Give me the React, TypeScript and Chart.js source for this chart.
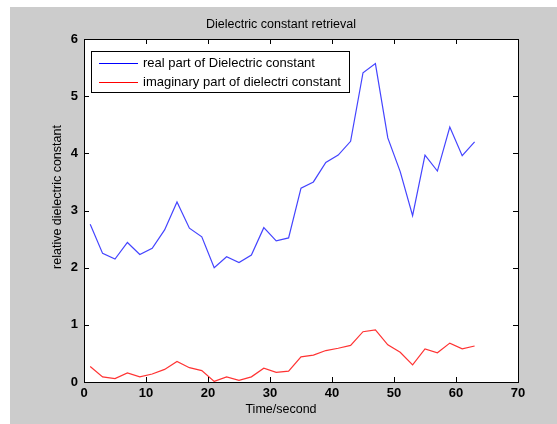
import React, { useEffect, useRef } from "react";
import { Chart, registerables } from "chart.js";

Chart.register(...registerables);

const timeSec = [1, 3, 5, 7, 9, 11, 13, 15, 17, 19, 21, 23, 25, 27, 29, 31, 33, 35, 37, 39, 41, 43, 45, 47, 49, 51, 53, 55, 57, 59, 61, 63];
const realPart = [2.76, 2.25, 2.15, 2.44, 2.23, 2.34, 2.66, 3.15, 2.69, 2.54, 2.0, 2.19, 2.09, 2.22, 2.7, 2.47, 2.52, 3.39, 3.5, 3.84, 3.97, 4.21, 5.41, 5.57, 4.27, 3.68, 2.91, 3.97, 3.69, 4.46, 3.96, 4.2];
const imagPart = [0.27, 0.09, 0.06, 0.16, 0.09, 0.14, 0.22, 0.36, 0.25, 0.2, 0.01, 0.09, 0.03, 0.09, 0.24, 0.17, 0.19, 0.44, 0.47, 0.55, 0.59, 0.64, 0.88, 0.91, 0.65, 0.52, 0.3, 0.58, 0.51, 0.68, 0.58, 0.63];
const seriesLabels = ["real part of Dielectric constant", "imaginary part of dielectri constant"];
const titleText = "Dielectric constant retrieval";
const xTitle = "Time/second";
const yTitle = "relative dielectric constant";

const FONT = "'Liberation Sans', Arial, sans-serif";

const decorPlugin = {
  id: "decor",
  beforeDraw(chart: any) {
    const { ctx, chartArea: a, width, height } = chart;
    ctx.save();
    ctx.fillStyle = "#ffffff";
    ctx.fillRect(0, 0, width, height);
    ctx.fillStyle = "#cccccc";
    ctx.fillRect(10, 7, width - 10, height - 7);
    ctx.fillStyle = "#ffffff";
    ctx.fillRect(a.left, a.top, a.right - a.left, a.bottom - a.top);
    ctx.restore();
  },
  afterDraw(chart: any) {
    const { ctx, chartArea: a, scales } = chart;
    ctx.save();
    ctx.strokeStyle = "#000000";
    ctx.lineWidth = 1;
    ctx.strokeRect(Math.round(a.left) + 0.5, Math.round(a.top) + 0.5, Math.round(a.right - a.left), Math.round(a.bottom - a.top));
    const tl = 5;
    ctx.beginPath();
    scales.x.ticks.forEach((t: any) => {
      const px = Math.round(scales.x.getPixelForValue(t.value)) + 0.5;
      ctx.moveTo(px, a.bottom);
      ctx.lineTo(px, a.bottom - tl);
      ctx.moveTo(px, a.top);
      ctx.lineTo(px, a.top + tl);
    });
    scales.y.ticks.forEach((t: any) => {
      const py = Math.round(scales.y.getPixelForValue(t.value)) + 0.5;
      ctx.moveTo(a.left, py);
      ctx.lineTo(a.left + tl, py);
      ctx.moveTo(a.right, py);
      ctx.lineTo(a.right - tl, py);
    });
    ctx.stroke();

    // legend
    ctx.font = `13px ${FONT}`;
    const bx = Math.round(a.left) + 7;
    const by = Math.round(a.top) + 12;
    const textX = bx + 52;
    const maxW = Math.max(...chart.data.datasets.map((d: any) => ctx.measureText(d.label).width));
    const bw = Math.round(textX - bx + maxW + 8);
    const bh = 41;
    ctx.fillStyle = "#ffffff";
    ctx.fillRect(bx, by, bw, bh);
    ctx.strokeStyle = "#000000";
    ctx.strokeRect(bx + 0.5, by + 0.5, bw, bh);
    chart.data.datasets.forEach((d: any, i: number) => {
      const ly = by + 12 + i * 19;
      ctx.strokeStyle = d.legendColor;
      ctx.beginPath();
      ctx.moveTo(bx + 8, ly + 0.5);
      ctx.lineTo(bx + 47, ly + 0.5);
      ctx.stroke();
      ctx.fillStyle = "#000000";
      ctx.textAlign = "left";
      ctx.textBaseline = "middle";
      ctx.fillText(d.label, textX, ly);
    });

    ctx.fillStyle = "#000000";
    ctx.textAlign = "center";
    ctx.textBaseline = "middle";
    ctx.font = `12.5px ${FONT}`;
    ctx.fillText(titleText, 281, 25);
    ctx.fillText(xTitle, 281, 410);
    ctx.save();
    ctx.translate(58, 197);
    ctx.rotate(-Math.PI / 2);
    ctx.fillText(yTitle, 0, 0);
    ctx.restore();
    ctx.restore();
  },
};

export default function App() {
  const ref = useRef<HTMLCanvasElement | null>(null);
  useEffect(() => {
    if (!ref.current) return;
    const chart = new Chart(ref.current, {
      type: "line",
      data: {
        datasets: [
          {
            label: seriesLabels[0],
            data: timeSec.map((t, i) => ({ x: t, y: realPart[i] })),
            borderColor: "#4444ff",
            legendColor: "#0000ff",
            borderWidth: 1.2,
            pointRadius: 0,
            tension: 0,
          } as any,
          {
            label: seriesLabels[1],
            data: timeSec.map((t, i) => ({ x: t, y: imagPart[i] })),
            borderColor: "#ff3333",
            legendColor: "#ff0000",
            borderWidth: 1.2,
            pointRadius: 0,
            tension: 0,
          } as any,
        ],
      },
      options: {
        animation: false,
        responsive: false,
        devicePixelRatio: 1,
        layout: { padding: { left: 0, top: 39, right: 39, bottom: 0 } },
        plugins: { legend: { display: false }, title: { display: false }, tooltip: { enabled: false } },
        scales: {
          x: {
            type: "linear",
            min: 0,
            max: 70,
            grid: { display: false, drawTicks: false },
            border: { display: false },
            ticks: { stepSize: 10, padding: 4, color: "#000000", font: { family: FONT, size: 13, weight: "bold" }, maxRotation: 0 },
            afterFit: (s: any) => { s.height = 42; },
          },
          y: {
            type: "linear",
            min: 0,
            max: 6,
            grid: { display: false, drawTicks: false },
            border: { display: false },
            ticks: { stepSize: 1, padding: 6, color: "#000000", font: { family: FONT, size: 13, weight: "bold" } },
            afterFit: (s: any) => { s.width = 84; },
          },
        },
      },
      plugins: [decorPlugin],
    });
    return () => chart.destroy();
  }, []);
  return (
    <div style={{ position: "fixed", left: 0, top: 0, width: 557, height: 424 }}>
      <canvas ref={ref} width={557} height={424} style={{ display: "block" }} />
    </div>
  );
}
